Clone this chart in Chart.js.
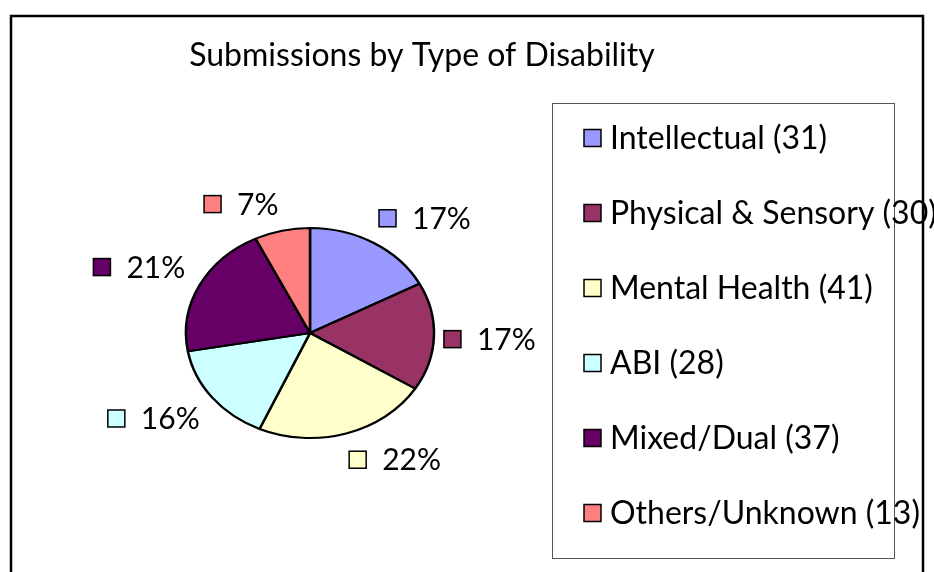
<!DOCTYPE html>
<html lang="en">
<head>
  <meta charset="UTF-8">
  <title>Submissions by Type of Disability</title>
  <script src="https://cdn.jsdelivr.net/npm/chart.js"></script>
  <style>
    body {
      background-color: #fff;
      margin: 0;
      padding: 0;
      overflow: hidden;
    }
    .chart-box {
      width: 934px;
      height: 572px;
    }
  </style>
</head>
<body>
  <div class="chart-box"><canvas id="pieChart" width="934" height="572"></canvas></div>

  <script>
    const categories = ['Intellectual', 'Physical & Sensory', 'Mental Health', 'ABI', 'Mixed/Dual', 'Others/Unknown'];
    const counts = [31, 30, 41, 28, 37, 13];
    const percentLabels = ['17%', '17%', '22%', '16%', '21%', '7%'];
    const colors = ['#9999ff', '#993366', '#ffffcc', '#ccffff', '#660066', '#ff8080'];
    const title = 'Submissions by Type of Disability';

    const fontFamily = 'Lato, "Open Sans", sans-serif';
    const rx = 124, ry = 105; // pie is squashed into an ellipse like the original

    // squash the pie vertically around its centre
    const ellipsePlugin = {
      id: 'ellipse',
      beforeDatasetsDraw(chart) {
        const arc = chart.getDatasetMeta(0).data[0];
        const ctx = chart.ctx;
        ctx.save();
        ctx.translate(arc.x, arc.y);
        ctx.scale(1, ry / rx);
        ctx.translate(-arc.x, -arc.y);
      },
      afterDatasetsDraw(chart) {
        chart.ctx.restore();
      }
    };

    const clamp = v => Math.max(-1, Math.min(1, v));

    const decorPlugin = {
      id: 'decor',
      afterDraw(chart) {
        const ctx = chart.ctx;
        const meta = chart.getDatasetMeta(0);
        ctx.save();

        // outer frame
        ctx.strokeStyle = '#000';
        ctx.lineWidth = 2.5;
        ctx.strokeRect(11, 16, 912, 620);

        // title
        ctx.fillStyle = '#000';
        ctx.font = '32px ' + fontFamily;
        ctx.textAlign = 'center';
        ctx.textBaseline = 'middle';
        ctx.fillText(title, 422, 56);

        // data labels with colour keys
        ctx.font = '30px ' + fontFamily;
        ctx.textAlign = 'left';
        meta.data.forEach((arc, i) => {
          const mid = (arc.startAngle + arc.endAngle) / 2;
          const c = Math.cos(mid), s = Math.sin(mid);
          const px = arc.x + c * rx + c * (c > 0 ? 10 : 16);
          const py = arc.y + s * ry + s * 16;
          const txt = percentLabels[i];
          const w = 17 + 16 + ctx.measureText(txt).width;
          const h = 22;
          const bx = px + w / 2 * clamp(c * 5) - w / 2;
          const by = py + h / 2 * clamp(s * 5);
          ctx.fillStyle = colors[i];
          ctx.fillRect(bx, by - 8.5, 17, 17);
          ctx.lineWidth = 1.5;
          ctx.strokeStyle = '#000';
          ctx.strokeRect(bx, by - 8.5, 17, 17);
          ctx.fillStyle = '#000';
          ctx.fillText(txt, bx + 33, by + 1);
        });

        // legend box
        ctx.lineWidth = 1;
        ctx.strokeStyle = '#555';
        ctx.strokeRect(552.5, 103.5, 342, 455);
        ctx.font = '32px ' + fontFamily;
        categories.forEach((cat, i) => {
          const y = 138 + i * 75;
          ctx.fillStyle = colors[i];
          ctx.fillRect(584, y - 8.5, 17, 17);
          ctx.lineWidth = 1.5;
          ctx.strokeStyle = '#000';
          ctx.strokeRect(584, y - 8.5, 17, 17);
          ctx.fillStyle = '#000';
          ctx.fillText(cat + ' (' + counts[i] + ')', 610, y + 1);
        });

        ctx.restore();
      }
    };

    const pieChart = new Chart(document.getElementById('pieChart').getContext('2d'), {
      type: 'pie',
      data: {
        labels: categories,
        datasets: [{
          data: counts,
          backgroundColor: colors,
          borderColor: '#000',
          borderWidth: 2.5,
          hoverOffset: 0,
          clip: false
        }]
      },
      options: {
        responsive: false,
        animation: false,
        radius: rx,
        layout: {
          padding: { left: 186, right: 500, top: 209, bottom: 115 }
        },
        plugins: {
          legend: { display: false },
          title: { display: false },
          tooltip: { enabled: false }
        }
      },
      plugins: [ellipsePlugin, decorPlugin]
    });
  </script>
</body>
</html>
